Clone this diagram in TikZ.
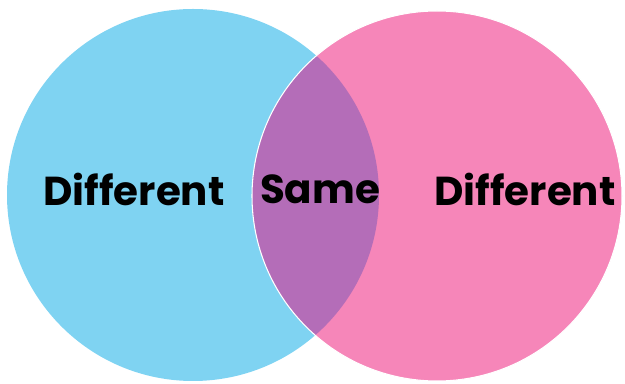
\documentclass[tikz,border=0pt]{standalone}
\usepackage{fontspec}
\setmainfont{Poppins}
\definecolor{bleuciel}{RGB}{127,211,242}
\definecolor{rose}{RGB}{246,134,185}
\definecolor{violet}{RGB}{180,109,184}
\begin{document}
\begin{tikzpicture}[x=0.02cm, y=-0.02cm,
        mot/.style={font=\bfseries\fontsize{23}{26}\selectfont, text=black, inner sep=0pt}]
        % Cadre
        \useasboundingbox (0,0) rectangle (625,384);
        % Centres des cercles
        \coordinate (G) at (193,195);
        \coordinate (D) at (437,196);
        % Cercles
        \fill[bleuciel] (G) circle[radius=186];
        \fill[rose] (D) circle[radius=185];
        % Intersection
        \begin{scope}
            \clip (G) circle[radius=186];
            \fill[violet] (D) circle[radius=185];
        \end{scope}
        \draw[white, line width=0.6pt] (D) circle[radius=185];
        % Textes
        \node[mot] (gauche) at (134,189) {Different};
        \node[mot] (milieu) at (320,189) {Same};
        \node[mot] (droite) at (525,189) {Different};
    \end{tikzpicture}
\end{document}
